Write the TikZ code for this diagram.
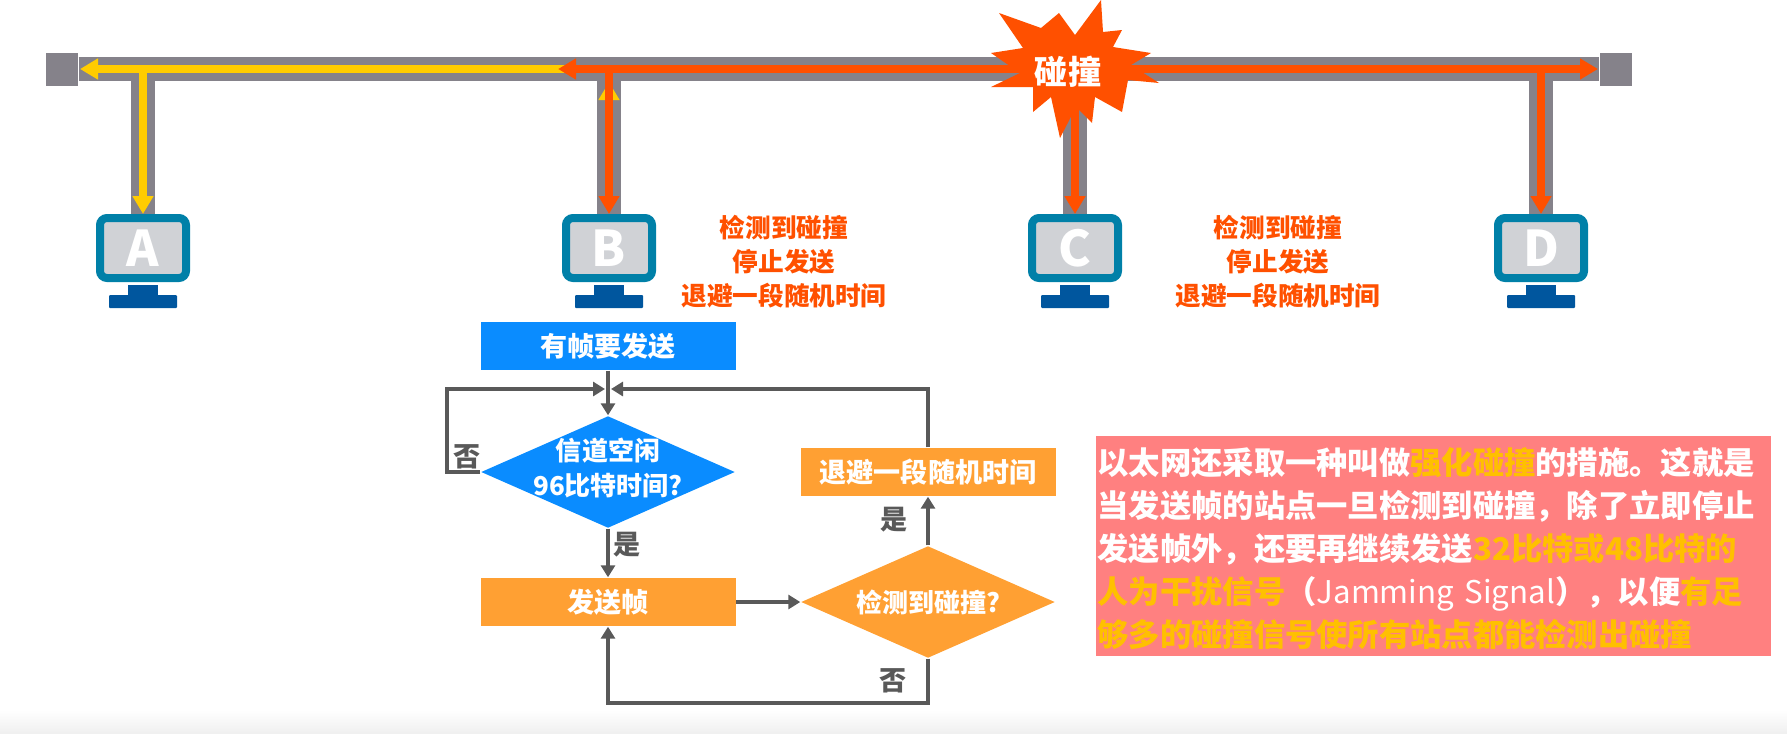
\documentclass[tikz,border=0pt]{standalone}
\usepackage{fontspec}
\setmainfont{Noto Sans CJK SC}
\usetikzlibrary{arrows.meta,shapes.geometric}

\definecolor{busgray}{HTML}{85828A}
\definecolor{hitorange}{HTML}{FF5000}
\definecolor{sigyellow}{HTML}{FFCC00}
\definecolor{framecol}{HTML}{0080A8}
\definecolor{screencol}{HTML}{D0D2D6}
\definecolor{standcol}{HTML}{00569E}
\definecolor{flowblue}{HTML}{0A8CFF}
\definecolor{floworange}{HTML}{FFA033}
\definecolor{flowgray}{HTML}{595959}
\definecolor{notered}{HTML}{FF8080}
\definecolor{noteyellow}{HTML}{FFC000}

\tikzset{
  busend/.style={fill=busgray,inner sep=0pt,minimum width=.32cm,minimum height=.33cm},
  bus/.style={draw=busgray,line width=.24cm},
  sigline/.style={line width=.075cm,-{Triangle[length=.18cm,width=.2cm]}},
  station/.style={draw=framecol,fill=screencol,line width=.08cm,rounded corners=.07cm,
    minimum width=.86cm,minimum height=.6cm,inner sep=0pt,text=white,
    font=\fontsize{14}{16}\selectfont\bfseries},
  neck/.style={fill=standcol,inner sep=0pt,minimum width=.3cm,minimum height=.11cm},
  foot/.style={fill=standcol,inner sep=0pt,rounded corners=.01cm,minimum width=.68cm,minimum height=.13cm},
  hittext/.style={text=hitorange,align=center,font=\fontsize{7.3}{9.7}\selectfont\bfseries},
  flowbox/.style={inner sep=0pt,minimum width=2.55cm,minimum height=.48cm,text=white,
    font=\fontsize{7.7}{9}\selectfont\bfseries},
  flowdia/.style={diamond,aspect=2.27,inner sep=0pt,minimum width=2.54cm,minimum height=1.12cm},
  flowtext/.style={text=white,align=center,font=\fontsize{7.4}{9.7}\selectfont\bfseries},
  flowline/.style={draw=flowgray,line width=.04cm},
  flowarrow/.style={flowline,-{Triangle[length=.12cm,width=.14cm]}},
  answer/.style={text=flowgray,font=\fontsize{7.7}{9}\selectfont\bfseries}
}

\begin{document}
\begin{tikzpicture}[y=-1cm]
  \useasboundingbox (0,0) rectangle (17.87,7.33);
  \shade[top color=white,bottom color=gray!12] (0,7.1) rectangle (17.87,7.33);

  % bus and stations
  \node[busend] (capl) at (.62,.69) {};
  \node[busend] (capr) at (16.16,.69) {};

  \node[station] (A) at (1.43,2.48) {A};
  \node[station] (B) at (6.09,2.48) {B};
  \node[station] (C) at (10.75,2.48) {C};
  \node[station] (D) at (15.41,2.48) {D};

  \node[neck] (neckA) at (1.43,2.9) {};
  \node[foot] (footA) at (1.43,3.015) {};
  \node[neck] (neckB) at (6.09,2.9) {};
  \node[foot] (footB) at (6.09,3.015) {};
  \node[neck] (neckC) at (10.75,2.9) {};
  \node[foot] (footC) at (10.75,3.015) {};
  \node[neck] (neckD) at (15.41,2.9) {};
  \node[foot] (footD) at (15.41,3.015) {};

  \coordinate (tapa) at (1.43,.69);
  \coordinate (tapb) at (6.09,.69);
  \coordinate (tapbup) at (6.09,.82);
  \coordinate (tapblow) at (6.09,1.3);
  \coordinate (tapc) at (10.75,.69);
  \coordinate (tapd) at (15.41,.69);
  \coordinate (crash) at (10.7,.69);
  \coordinate (yellowend) at (.8,.69);
  \coordinate (yellowstart) at (5.65,.69);
  \coordinate (orangel) at (5.58,.69);
  \coordinate (oranger) at (15.98,.69);

  \draw[bus] (capl) -- (capr);
  \draw[bus] (tapa) -- (A.north);
  \draw[bus] (tapb) -- (B.north);
  \draw[bus] (tapc) -- (C.north);
  \draw[bus] (tapd) -- (D.north);

  % signals
  \draw[sigline,sigyellow] (yellowstart) -- (yellowend);
  \draw[sigline,sigyellow] (tapa) -- (A.north);
  \draw[sigline,sigyellow] (tapblow) -- (tapbup);
  \draw[sigline,hitorange] (crash) -- (orangel);
  \draw[sigline,hitorange] (crash) -- (oranger);
  \draw[sigline,hitorange] (tapb) -- (B.north);
  \draw[sigline,hitorange] (tapc) -- (C.north);
  \draw[sigline,hitorange] (tapd) -- (D.north);

  \fill[hitorange] (11.01,0) -- (11.03,.32) -- (11.22,.30) -- (11.13,.47) -- (11.51,.53)
    -- (11.31,.65) -- (11.59,.83) -- (11.28,.80) -- (11.22,1.12) -- (10.95,.97)
    -- (10.92,1.23) -- (10.76,1.07) -- (10.6,1.38) -- (10.51,.97) -- (10.33,1.12)
    -- (10.33,.87) -- (9.91,.87) -- (10.2,.73) -- (9.91,.53) -- (10.23,.48)
    -- (9.99,.13) -- (10.41,.28) -- (10.59,.13) -- (10.75,.35) -- cycle;
  \node[text=white,font=\fontsize{9.4}{11}\selectfont\bfseries] (crashtext) at (10.68,.72) {碰撞};

  \node[hittext] (hitb) at (7.84,2.62) {检测到碰撞\\停止发送\\退避一段随机时间};
  \node[hittext] (hitc) at (12.78,2.62) {检测到碰撞\\停止发送\\退避一段随机时间};

  % flow chart
  \node[flowbox,fill=flowblue] (start) at (6.08,3.46) {有帧要发送};
  \node[flowdia,fill=flowblue] (idle) at (6.08,4.72) {};
  \node[flowtext] (idletext) at (6.08,4.68) {信道空闲\\96比特时间?};
  \node[flowbox,fill=floworange] (send) at (6.08,6.02) {发送帧};
  \node[flowdia,fill=floworange] (detect) at (9.28,6.02) {};
  \node[flowtext] (detecttext) at (9.28,6.02) {检测到碰撞?};
  \node[flowbox,fill=floworange] (backoff) at (9.28,4.72) {退避一段随机时间};

  \coordinate (joinl) at (6.05,3.89);
  \coordinate (joinr) at (6.11,3.89);
  \coordinate (loopl) at (4.47,3.89);
  \coordinate (loopr) at (9.28,3.89);
  \coordinate (loopb) at (9.28,7.03);
  \coordinate (loopc) at (6.08,7.03);

  \draw[flowarrow] (start) -- (idle);
  \draw[flowarrow] (idle) -- (send);
  \draw[flowarrow] (send) -- (detect);
  \draw[flowarrow] (detect) -- (backoff);
  \draw[flowarrow] (idle.west) -| (loopl) -- (joinl);
  \draw[flowarrow] (backoff.north) -- (loopr) -- (joinr);
  \draw[flowarrow] (detect.south) -- (loopb) -- (loopc) -- (send.south);

  \node[answer] (no1) at (4.67,4.57) {否};
  \node[answer] (yes1) at (6.27,5.45) {是};
  \node[answer] (yes2) at (8.94,5.2) {是};
  \node[answer] (no2) at (8.93,6.81) {否};

  % note
  \node[anchor=north west,fill=notered,text=white,inner xsep=.02cm,inner ysep=0pt,minimum width=6.75cm,
    minimum height=2.2cm,text width=6.71cm,align=left,
    font=\fontsize{8.9}{12.23}\selectfont\bfseries] (note) at (10.95,4.35)
    {\rule{0pt}{9.2pt}以太网还采取一种叫做\textcolor{noteyellow}{强化碰撞}的措施。这就是\\
     当发送帧的站点一旦检测到碰撞，除了立即停止\\
     发送帧外，还要再继续发送\textcolor{noteyellow}{32比特或48比特的}\\
     \textcolor{noteyellow}{人为干扰信号}（{\mdseries Jamming Signal}），以便\textcolor{noteyellow}{有足}\\
     \textcolor{noteyellow}{够多的碰撞信号使所有站点都能检测出碰撞}};
\end{tikzpicture}
\end{document}
